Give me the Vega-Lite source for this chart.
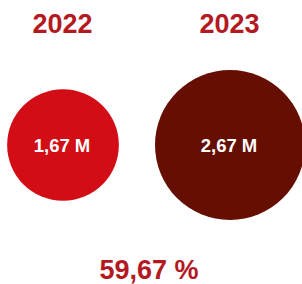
{
  "$schema": "https://vega.github.io/schema/vega-lite/v6.json",
  "width": 302,
  "height": 284,
  "autosize": {"type": "none"},
  "padding": 0,
  "background": "white",
  "config": {"view": {"stroke": null}},
  "datasets": {
    "years": [
      {"year": "2022", "value": 1.67, "label": "1,67 M"},
      {"year": "2023", "value": 2.67, "label": "2,67 M"}
    ],
    "change": [
      {"year": "change", "text": "59,67 %"}
    ]
  },
  "encoding": {
    "x": {"field": "year", "type": "nominal", "scale": {"type": "point", "padding": 0, "domain": ["2022", "change", "2023"], "range": [63, 230]}, "axis": null}
  },
  "layer": [
    {
      "data": {"name": "years"},
      "mark": {"type": "point", "filled": true, "shape": "circle", "opacity": 1},
      "encoding": {
        "y": {"datum": "circle", "type": "nominal", "scale": {"type": "point", "padding": 0, "domain": ["year", "circle", "change"], "range": [25, 265]}, "axis": null},
        "size": {"field": "value", "type": "quantitative", "scale": {"domain": [1.67, 2.67], "range": [12480, 22500]}, "legend": null},
        "color": {"field": "year", "type": "nominal", "scale": {"domain": ["2022", "2023"], "range": ["#d20d15", "#650e01"]}, "legend": null}
      }
    },
    {
      "data": {"name": "years"},
      "mark": {"type": "text", "font": "Liberation Sans", "fontWeight": "bold", "fontSize": 18.5, "color": "white", "dy": 1, "dx": -1},
      "encoding": {
        "y": {"datum": "circle", "type": "nominal"},
        "text": {"field": "label"}
      }
    },
    {
      "data": {"name": "years"},
      "mark": {"type": "text", "font": "Liberation Sans", "fontWeight": "bold", "fontSize": 27, "color": "#b3191f", "dx": -0.5},
      "encoding": {
        "y": {"datum": "year", "type": "nominal"},
        "text": {"field": "year"}
      }
    },
    {
      "data": {"name": "change"},
      "mark": {"type": "text", "font": "Liberation Sans", "fontWeight": "bold", "fontSize": 27, "color": "#b3191f", "dx": 2.5, "dy": 6},
      "encoding": {
        "y": {"datum": "change", "type": "nominal"},
        "text": {"field": "text"}
      }
    }
  ]
}
